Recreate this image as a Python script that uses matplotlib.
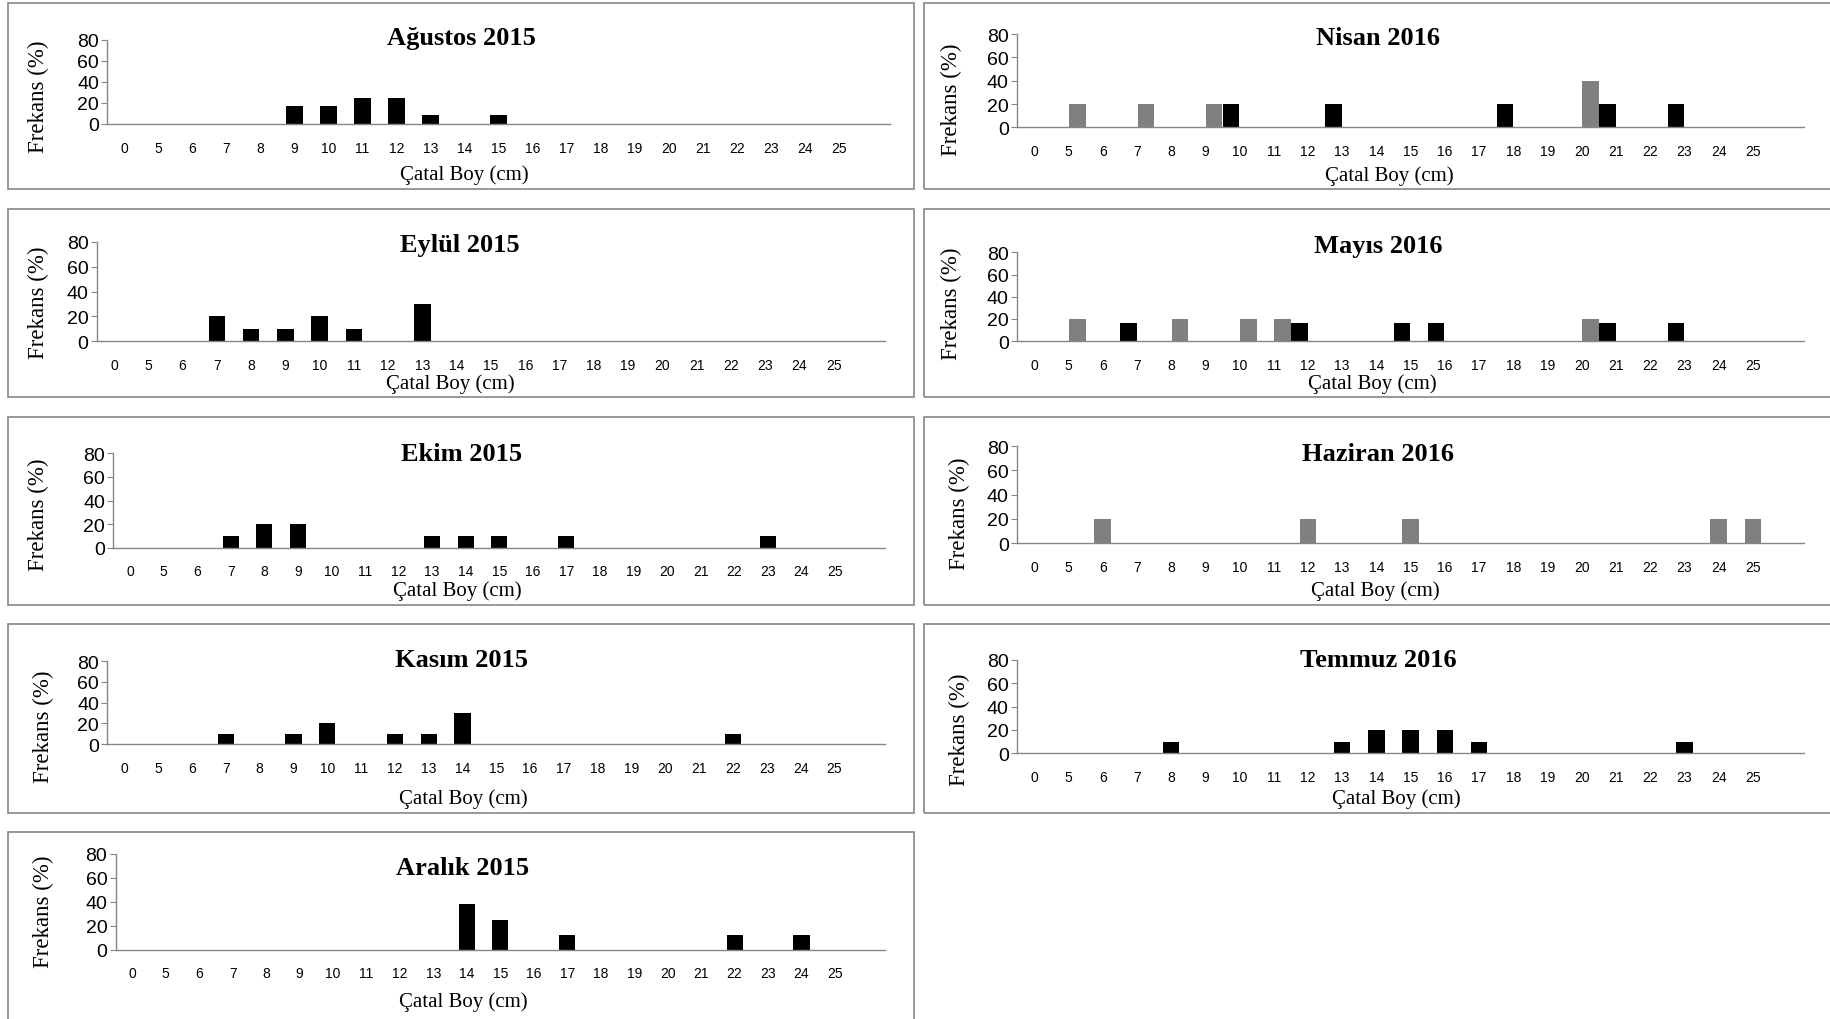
import matplotlib
matplotlib.use("Agg")
import matplotlib.pyplot as plt
import matplotlib.patches as patches
import numpy as np

# size classes on the x axis (cm)
sizes = [0] + list(range(5, 26))

# frequency (%) by size class, black and grey series
agustos_2015_black = {9: 16.7, 10: 16.7, 11: 25, 12: 25, 13: 8.3, 15: 8.3}
eylul_2015_black = {7: 20, 8: 10, 9: 10, 10: 20, 11: 10, 13: 30}
ekim_2015_black = {7: 10, 8: 20, 9: 20, 13: 10, 14: 10, 15: 10, 17: 10, 23: 10}
kasim_2015_black = {7: 10, 9: 10, 10: 20, 12: 10, 13: 10, 14: 30, 22: 10}
aralik_2015_black = {14: 38, 15: 25, 17: 12.5, 22: 12.5, 24: 12.5}
nisan_2016_black = {10: 20, 13: 20, 18: 20, 21: 20, 23: 20}
nisan_2016_grey = {5: 20, 7: 20, 9: 20, 20: 40}
mayis_2016_black = {7: 16.7, 12: 16.7, 15: 16.7, 16: 16.7, 21: 16.7, 23: 16.7}
mayis_2016_grey = {5: 20, 8: 20, 10: 20, 11: 20, 20: 20}
haziran_2016_grey = {6: 20, 12: 20, 15: 20, 24: 20, 25: 20}
temmuz_2016_black = {8: 10, 13: 10, 14: 20, 15: 20, 16: 20, 17: 10, 23: 10}

yticks = [0, 20, 40, 60, 80]

SERIF = ['Liberation Serif', 'DejaVu Serif']
SANS = ['Liberation Sans Narrow', 'Liberation Sans', 'DejaVu Sans']
GRID = '#868686'

W, H = 1831, 1020
S = W / 1568.0


def fx(x):
    return x * S / W


def fy(y):
    return 1 - y * S / H


def to_array(d):
    return np.array([d.get(s, 0) for s in sizes], dtype=float)


# (title, black, grey, yaxis_x, right, top80, zero, title_xy, xlabel_xy, ylabel_xy)
panels = [
    ('Ağustos 2015', agustos_2015_black, None, 92, 762, 35, 107, (395, 33), (398, 150), (33, 83)),
    ('Eylül 2015', eylul_2015_black, None, 83, 758, 208, 293, (394, 210), (386, 329), (33, 259)),
    ('Ekim 2015', ekim_2015_black, None, 97, 758, 389, 470, (395, 389), (392, 506), (33, 441)),
    ('Kasım 2015', kasim_2015_black, None, 92, 758, 567, 638, (395, 566), (397, 684), (37, 622)),
    ('Aralık 2015', aralik_2015_black, None, 99, 758, 732, 814, (396, 744), (397, 858), (37, 781)),
    ('Nisan 2016', nisan_2016_black, nisan_2016_grey, 871, 1545, 30, 110, (1180, 33), (1190, 151), (815, 85)),
    ('Mayıs 2016', mayis_2016_black, mayis_2016_grey, 871, 1545, 217, 293, (1180, 211), (1175, 329), (815, 260)),
    ('Haziran 2016', None, haziran_2016_grey, 871, 1545, 383, 466, (1180, 389), (1178, 506), (822, 440)),
    ('Temmuz 2016', temmuz_2016_black, None, 871, 1545, 566, 646, (1180, 566), (1196, 684), (822, 625)),
]

fig = plt.figure(figsize=(W / 100, H / 100), dpi=100)

# panel frames
rows = [(3, 163), (180, 341), (358, 519), (535, 697), (713, 890)]
for col, (x0, x1) in enumerate([(7, 783), (791, 1575)]):
    for r, (y0, y1) in enumerate(rows):
        if col == 1 and r == 4:
            continue
        fig.patches.append(patches.Rectangle(
            (fx(x0), fy(y1)), fx(x1) - fx(x0), fy(y0) - fy(y1),
            transform=fig.transFigure, fill=False,
            edgecolor=GRID, linewidth=1.2))

idx = np.arange(len(sizes))
bar_w = 0.48

for (title, black, grey, xa, xr, ytop, yzero, txy, lxy, yxy) in panels:
    ax = fig.add_axes([fx(xa), fy(yzero), fx(xr) - fx(xa), fy(ytop) - fy(yzero)])
    both = black is not None and grey is not None
    if grey is not None:
        ax.bar(idx + (0.26 if both else 0), to_array(grey), width=bar_w,
               color='#808080', linewidth=0)
    if black is not None:
        ax.bar(idx - (0.25 if both else 0), to_array(black), width=bar_w,
               color='black', linewidth=0)
    ax.set_xlim(-0.5, 22.5)
    ax.set_ylim(0, 80)
    ax.set_yticks(yticks)
    ax.set_xticks(idx)
    ax.set_xticklabels([str(s) for s in sizes], family=SANS, fontsize=10)
    ax.set_yticklabels([str(v) for v in yticks], family=SANS, fontsize=14)
    for sp in ['top', 'right']:
        ax.spines[sp].set_visible(False)
    for sp in ['left', 'bottom']:
        ax.spines[sp].set_color(GRID)
        ax.spines[sp].set_linewidth(1.0)
    ax.tick_params(axis='x', length=0, pad=12)
    ax.tick_params(axis='y', length=4, color=GRID, pad=2)
    ax.patch.set_alpha(0)

    fig.text(fx(txy[0]), fy(txy[1]), title, family=SERIF, fontweight='bold',
             fontsize=19, ha='center', va='center')
    fig.text(fx(lxy[0]), fy(lxy[1]), 'Çatal Boy (cm)', family=SERIF,
             fontsize=15, ha='center', va='center')
    fig.text(fx(yxy[0]), fy(yxy[1]), 'Frekans (%)', family=SERIF,
             fontsize=16.5, ha='center', va='center', rotation=90)

fig.savefig('out.png', dpi=100)
